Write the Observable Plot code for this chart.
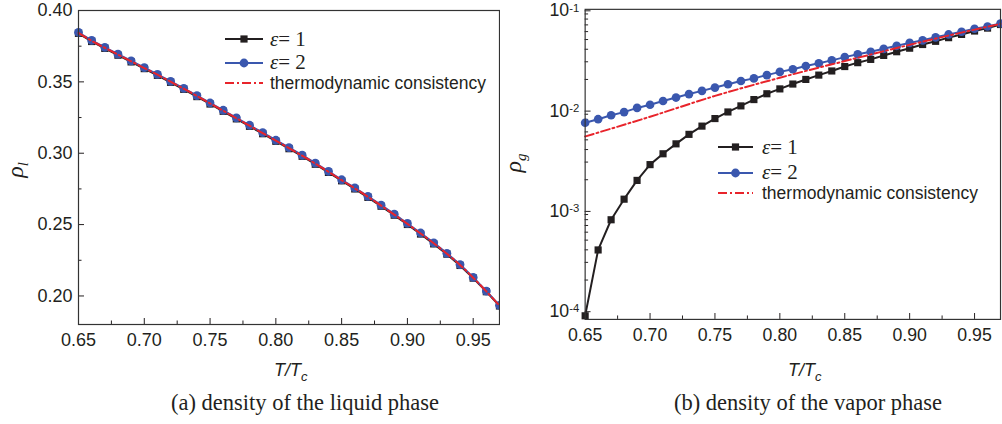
<!DOCTYPE html>
<html><head><meta charset="utf-8">
<script src="https://cdn.jsdelivr.net/npm/d3@7"></script>
<script src="https://cdn.jsdelivr.net/npm/@observablehq/plot@0.6"></script>
<style>
html,body{margin:0;padding:0;background:#fff;}
#wrap{position:relative;width:1002px;height:424px;overflow:hidden;background:#fff;}
#left{position:absolute;left:0;top:0;}
#right{position:absolute;left:500px;top:0;}
#overlay{position:absolute;left:0;top:0;}
</style></head>
<body>
<div id="wrap">
<div id="left"></div>
<div id="right"></div>
<svg id="overlay" width="1002" height="424">
  <g font-family="'Liberation Serif','Times New Roman',serif" font-size="22.5" fill="#231f20" text-anchor="middle">
    <text x="305" y="410">(a) density of the liquid phase</text>
    <text x="808" y="410">(b) density of the vapor phase</text>
  </g>
  <g font-family="'Liberation Sans',Arial,sans-serif" font-style="italic" font-size="18" fill="#231f20">
    <text x="274" y="376">T/T<tspan font-size="13" dy="5">c</tspan></text>
    <text x="788" y="376">T/T<tspan font-size="13" dy="5">c</tspan></text>
  </g>
  <g font-family="'Liberation Serif','Times New Roman',serif" font-style="italic" font-size="24" fill="#231f20">
    <text transform="translate(23,170) rotate(-90)" text-anchor="middle">ρ<tspan font-size="15" dy="5">l</tspan></text>
    <text transform="translate(521,163) rotate(-90)" text-anchor="middle">ρ<tspan font-size="15" dy="5">g</tspan></text>
  </g>
  <g id="legA"></g>
  <g id="legB"></g>
</svg>
</div>
<script>
// ---------- data ----------
const T = [0.65,0.66,0.67,0.68,0.69,0.70,0.71,0.72,0.73,0.74,0.75,0.76,0.77,0.78,0.79,0.80,0.81,0.82,0.83,0.84,0.85,0.86,0.87,0.88,0.89,0.90,0.91,0.92,0.93,0.94,0.95,0.96,0.97];

// (a) liquid density
const liqE1 = [0.3840,0.3783,0.3735,0.3687,0.3640,0.3593,0.3546,0.3497,0.3448,0.3397,0.3345,0.3294,0.3241,0.3189,0.3137,0.3084,0.3032,0.2979,0.2923,0.2866,0.2807,0.2750,0.2691,0.2629,0.2566,0.2501,0.2434,0.2365,0.2293,0.2214,0.2125,0.2030,0.1930];
const liqE2 = [0.3846,0.3790,0.3742,0.3694,0.3647,0.3600,0.3553,0.3504,0.3455,0.3404,0.3352,0.3301,0.3248,0.3196,0.3144,0.3091,0.3039,0.2986,0.2930,0.2873,0.2814,0.2757,0.2698,0.2636,0.2573,0.2508,0.2441,0.2372,0.2299,0.2220,0.2130,0.2034,0.1934];
const liqTC  = [0.3843,0.3787,0.3739,0.3691,0.3644,0.3597,0.3550,0.3501,0.3452,0.3401,0.3349,0.3298,0.3245,0.3193,0.3141,0.3088,0.3036,0.2983,0.2927,0.2870,0.2811,0.2754,0.2695,0.2633,0.2570,0.2505,0.2438,0.2369,0.2296,0.2217,0.2128,0.2032,0.1932];

// (b) vapor density
const gasE1 = [0.000088,0.000399,0.000798,0.00128,0.00197,0.00283,0.00363,0.00456,0.00567,0.00685,0.00815,0.00948,0.0109,0.0126,0.0144,0.0161,0.0180,0.0200,0.0221,0.0243,0.0269,0.0294,0.0317,0.0347,0.0378,0.0410,0.0446,0.0480,0.0522,0.0562,0.0608,0.0650,0.0706];
const gasE2 = [0.00740,0.00803,0.00879,0.00945,0.0104,0.0112,0.0122,0.0132,0.0143,0.0154,0.0166,0.0179,0.0193,0.0205,0.0221,0.0238,0.0253,0.0272,0.0290,0.0310,0.0334,0.0356,0.0378,0.0404,0.0433,0.0463,0.0491,0.0526,0.0562,0.0598,0.0640,0.0675,0.0722];
const tcT   = [0.65,0.70,0.75,0.80,0.85,0.90,0.95,0.97];
const gasTC = [0.0054,0.0085,0.0137,0.0208,0.0305,0.0443,0.0628,0.0716];

// ticks
const xMajor = [0.65,0.70,0.75,0.80,0.85,0.90,0.95];
const xMinor = [0.675,0.725,0.775,0.825,0.875,0.925];
const liqMajor = [0.20,0.25,0.30,0.35,0.40];
const liqMinor = [0.225,0.275,0.325,0.375];
const gasMajor = [0.0001,0.001,0.01,0.1];
const gasMinor = [0.00009,0.0002,0.0003,0.0004,0.0005,0.0006,0.0007,0.0008,0.0009,0.002,0.003,0.004,0.005,0.006,0.007,0.008,0.009,0.02,0.03,0.04,0.05,0.06,0.07,0.08,0.09];

const seriesNames = ["\u03b5 = 1", "\u03b5 = 2", "thermodynamic consistency"];

// ---------- style ----------
const ink = "#231f20", blue = "#3a57ae", red = "#e8242b";
const fmt2 = d3.format(".2f");
const rows = (xs, ys) => xs.map((t, i) => ({t, v: ys[i]}));
const baseStyle = {fontFamily: "'Liberation Sans',Arial,sans-serif", fontSize: "18px", color: ink, background: "transparent"};

function seriesMarks(e1, e2, tc) {
  return [
    Plot.line(e1, {x: "t", y: "v", stroke: ink, strokeWidth: 2}),
    Plot.dot(e1, {x: "t", y: "v", symbol: "square", r: 4.1, fill: ink, stroke: "none"}),
    Plot.line(e2, {x: "t", y: "v", stroke: blue, strokeWidth: 2}),
    Plot.dot(e2, {x: "t", y: "v", symbol: "circle", r: 4.4, fill: blue, stroke: "none"}),
    Plot.line(tc, {x: "t", y: "v", stroke: red, strokeWidth: 2, strokeDasharray: "9,3,2,3", curve: "monotone-x"})
  ];
}

const left = Plot.plot({
  width: 500, height: 385, marginLeft: 78, marginRight: 1, marginTop: 10, marginBottom: 61,
  style: baseStyle,
  x: {domain: [0.65, 0.97], label: null},
  y: {domain: [0.18, 0.40], label: null},
  marks: [
    Plot.axisX(xMajor, {tickSize: -6, tickPadding: 15, tickFormat: fmt2, label: null}),
    Plot.axisX(xMinor, {tickSize: -3.5, tickFormat: () => "", label: null}),
    Plot.axisY(liqMajor, {tickSize: -6, tickPadding: 12, tickFormat: fmt2, label: null}),
    Plot.axisY(liqMinor, {tickSize: -3.5, tickFormat: () => "", label: null}),
    ...seriesMarks(rows(T, liqE1), rows(T, liqE2), rows(T, liqTC)),
    Plot.frame({stroke: "#333", strokeWidth: 1.2})
  ]
});
document.getElementById("left").append(left);

const right = Plot.plot({
  width: 510, height: 385, marginLeft: 86, marginRight: 2, marginTop: 9, marginBottom: 61,
  style: baseStyle,
  x: {domain: [0.65, 0.97], label: null},
  y: {type: "log", domain: [0.000081, 0.1], label: null},
  marks: [
    Plot.axisX(xMajor, {tickSize: -6, tickPadding: 15, tickFormat: fmt2, label: null}),
    Plot.axisX(xMinor, {tickSize: -3.5, tickFormat: () => "", label: null}),
    Plot.axisY(gasMajor, {tickSize: -6, tickPadding: 12, dy: 1.5, tickFormat: d => "10^" + Math.round(Math.log10(d)), label: null}),
    Plot.axisY(gasMinor, {tickSize: -3.5, tickFormat: () => "", label: null}),
    ...seriesMarks(rows(T, gasE1), rows(T, gasE2), rows(tcT, gasTC)),
    Plot.frame({stroke: "#333", strokeWidth: 1.2})
  ]
});
document.getElementById("right").append(right);

// superscript exponents on log tick labels
Array.from(right.querySelectorAll("text")).forEach(t => {
  const m = /^10\^(.+)$/.exec((t.textContent || "").trim());
  if (!m) return;
  while (t.firstChild) t.removeChild(t.firstChild);
  t.append(document.createTextNode("10"));
  const s = document.createElementNS("http://www.w3.org/2000/svg", "tspan");
  s.setAttribute("font-size", "11.5");
  s.setAttribute("dy", "-5");
  s.textContent = m[1].replace("\u2212", "-");
  t.append(s);
});

// ---------- legends ----------
const NS = "http://www.w3.org/2000/svg";
function el(parent, name, attrs, text) {
  const e = document.createElementNS(NS, name);
  for (const k in attrs) e.setAttribute(k, attrs[k]);
  if (text != null) e.textContent = text;
  parent.append(e);
  return e;
}
function legend(g, x0, x1, tx, ys, bases) {
  const xm = (x0 + x1) / 2;
  el(g, "line", {x1: x0, x2: x1, y1: ys[0], y2: ys[0], stroke: ink, "stroke-width": 2});
  el(g, "rect", {x: xm - 3.6, y: ys[0] - 3.6, width: 7.2, height: 7.2, fill: ink});
  el(g, "line", {x1: x0, x2: x1, y1: ys[1], y2: ys[1], stroke: blue, "stroke-width": 2});
  el(g, "circle", {cx: xm, cy: ys[1], r: 4.4, fill: blue});
  el(g, "line", {x1: x0, x2: x1, y1: ys[2], y2: ys[2], stroke: red, "stroke-width": 2, "stroke-dasharray": "9,3,2,3"});
  for (let i = 0; i < 2; i++) {
    const t = el(g, "text", {x: tx, y: bases[i], "font-family": "'Liberation Serif','Times New Roman',serif", "font-size": 21, fill: ink});
    el(t, "tspan", {"font-style": "italic"}, seriesNames[i].slice(0, 1));
    el(t, "tspan", {}, seriesNames[i].slice(1).replace(" = ", "= "));
  }
  el(g, "text", {x: tx, y: bases[2], "font-family": "'Liberation Sans',Arial,sans-serif", "font-size": 17.5, fill: ink}, seriesNames[2]);
}
legend(document.getElementById("legA"), 225, 263, 270, [39, 63, 83], [45.5, 69, 89]);
legend(document.getElementById("legB"), 718, 753, 762, [147, 173, 193], [153.5, 179, 199]);
</script>
</body></html>
